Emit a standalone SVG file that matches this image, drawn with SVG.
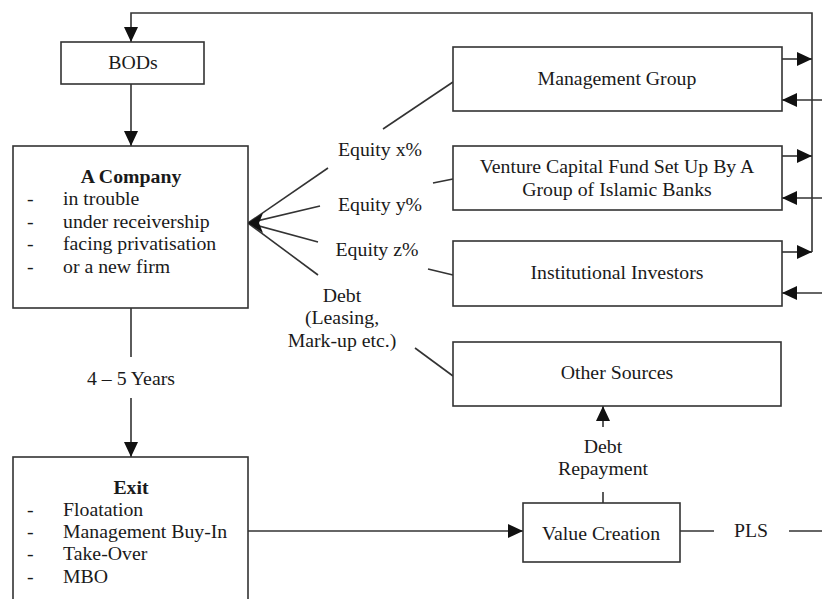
<svg xmlns="http://www.w3.org/2000/svg" width="822" height="599" viewBox="0 0 822 599">
<style>
.box{fill:#fff;stroke:#333;stroke-width:1.6}
.ln{fill:none;stroke:#333;stroke-width:1.6}
text{font-family:"Liberation Serif","Times New Roman",serif;font-size:19.8px;fill:#1a1a1a}
.c{text-anchor:middle}
.b{font-weight:bold}
</style>
<defs>
<marker id="ah" markerUnits="userSpaceOnUse" markerWidth="15" markerHeight="14" refX="15" refY="7" orient="auto" viewBox="0 0 15 14">
<path d="M0,0 L15,7 L0,14 z" fill="#111"/>
</marker>
</defs>
<rect x="0" y="0" width="822" height="599" fill="#fff"/>
<g id="connectors">
<polyline class="ln" points="812,252 812,13 131,13 131,42" marker-end="url(#ah)"/>
<line class="ln" x1="782" y1="59" x2="812" y2="59" marker-end="url(#ah)"/>
<line class="ln" x1="782" y1="156" x2="812" y2="156" marker-end="url(#ah)"/>
<line class="ln" x1="782" y1="252" x2="812" y2="252" marker-end="url(#ah)"/>
<line class="ln" x1="822" y1="100" x2="782" y2="100" marker-end="url(#ah)"/>
<line class="ln" x1="822" y1="198" x2="782" y2="198" marker-end="url(#ah)"/>
<line class="ln" x1="822" y1="293" x2="782" y2="293" marker-end="url(#ah)"/>
<line class="ln" x1="131" y1="84" x2="131" y2="146" marker-end="url(#ah)"/>
<line class="ln" x1="131" y1="308" x2="131" y2="357"/>
<line class="ln" x1="131" y1="398" x2="131" y2="457" marker-end="url(#ah)"/>
<line class="ln" x1="248" y1="223" x2="328" y2="168"/>
<line class="ln" x1="383" y1="129" x2="453" y2="82"/>
<line class="ln" x1="248" y1="223" x2="320" y2="206"/>
<line class="ln" x1="433" y1="183" x2="453" y2="179"/>
<line class="ln" x1="248" y1="223" x2="318" y2="242"/>
<line class="ln" x1="428" y1="269" x2="453" y2="275"/>
<line class="ln" x1="248" y1="223" x2="318" y2="275"/>
<line class="ln" x1="415" y1="348" x2="453" y2="376"/>
<polygon points="248,223 263,213 259,223 263,233" fill="#111"/>
<line class="ln" x1="248" y1="531" x2="523" y2="531" marker-end="url(#ah)"/>
<line class="ln" x1="603" y1="503" x2="603" y2="492"/>
<line class="ln" x1="603" y1="427" x2="603" y2="406" marker-end="url(#ah)"/>
<line class="ln" x1="680" y1="531" x2="714" y2="531"/>
<line class="ln" x1="789" y1="531" x2="822" y2="531"/>
<text class="c" x="380" y="156">Equity x%</text>
<text class="c" x="380" y="211">Equity y%</text>
<text class="c" x="377" y="256">Equity z%</text>
<text class="c" x="342" y="302">Debt</text>
<text class="c" x="342" y="324">(Leasing,</text>
<text class="c" x="342" y="347">Mark-up etc.)</text>
<text class="c" x="131" y="385">4 – 5 Years</text>
<text class="c" x="603" y="453">Debt</text>
<text class="c" x="603" y="475">Repayment</text>
<text class="c" x="751" y="537">PLS</text>
</g>
<g id="bods">
<rect class="box" x="61" y="42" width="143" height="42"/>
<text class="c" x="133" y="69">BODs</text>
</g>
<g id="company">
<rect class="box" x="13" y="146" width="235" height="162"/>
<text class="c b" x="131" y="183">A Company</text>
<text x="27" y="205">-</text><text x="63" y="205">in trouble</text>
<text x="27" y="228">-</text><text x="63" y="228">under receivership</text>
<text x="27" y="250">-</text><text x="63" y="250">facing privatisation</text>
<text x="27" y="273">-</text><text x="63" y="273">or a new firm</text>
</g>
<g id="exit">
<rect class="box" x="13" y="457" width="235" height="170"/>
<text class="c b" x="131" y="494">Exit</text>
<text x="27" y="516">-</text><text x="63" y="516">Floatation</text>
<text x="27" y="538">-</text><text x="63" y="538">Management Buy-In</text>
<text x="27" y="560">-</text><text x="63" y="560">Take-Over</text>
<text x="27" y="583">-</text><text x="63" y="583">MBO</text>
</g>
<g id="management">
<rect class="box" x="453" y="47" width="329" height="64"/>
<text class="c" x="617" y="85">Management Group</text>
</g>
<g id="vcfund">
<rect class="box" x="453" y="146" width="329" height="64"/>
<text class="c" x="617" y="173">Venture Capital Fund Set Up By A</text>
<text class="c" x="617" y="196">Group of Islamic Banks</text>
</g>
<g id="institutional">
<rect class="box" x="453" y="241" width="329" height="65"/>
<text class="c" x="617" y="279">Institutional Investors</text>
</g>
<g id="other">
<rect class="box" x="453" y="342" width="328" height="64"/>
<text class="c" x="617" y="379">Other Sources</text>
</g>
<g id="value">
<rect class="box" x="523" y="503" width="157" height="59"/>
<text class="c" x="601" y="540">Value Creation</text>
</g>
</svg>
